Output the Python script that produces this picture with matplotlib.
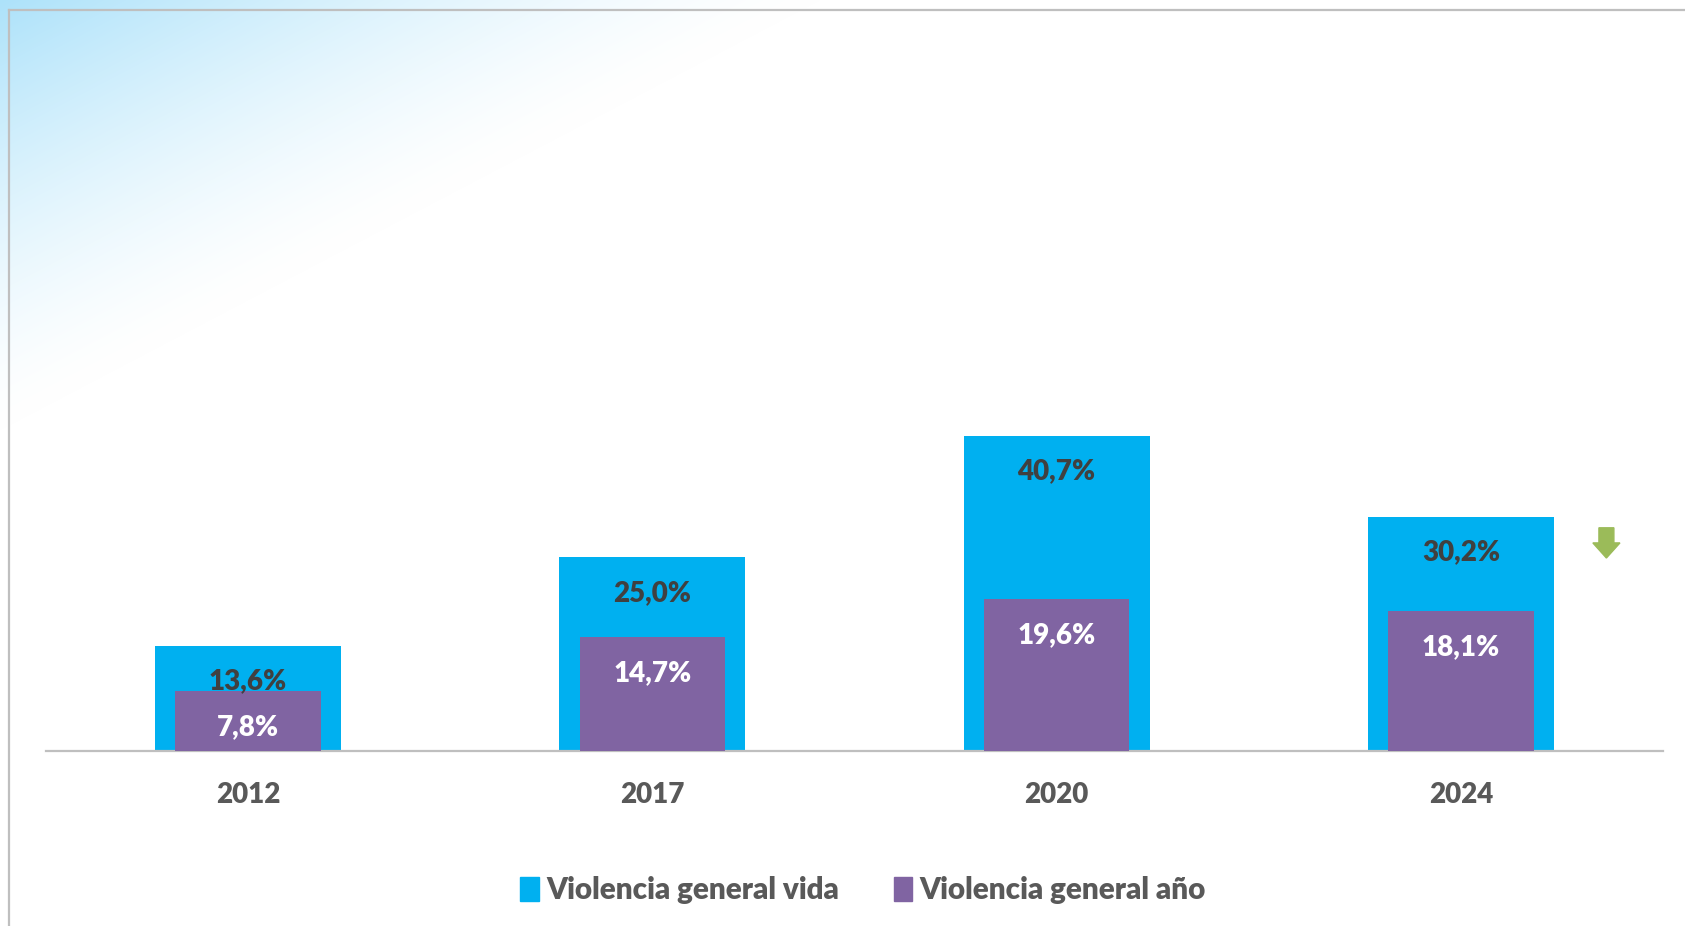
import numpy as np
import matplotlib
matplotlib.use("Agg")
import matplotlib.pyplot as plt
from matplotlib.patches import Patch, FancyArrow
from matplotlib.lines import Line2D

plt.rcParams['font.family'] = ['Lato', 'DejaVu Sans']

years = ["2012", "2017", "2020", "2024"]
vida = [13.6, 25.0, 40.7, 30.2]
anio = [7.8, 14.7, 19.6, 18.1]
series_names = ["Violencia general vida", "Violencia general año"]

blue = "#00B0F0"
purple = "#8064A2"
green = "#9BBB59"
txt_dark = "#404040"
txt_gray = "#595959"
frame_gray = "#BFBFBF"
wt = "heavy"

W, H = 1685, 926
fig = plt.figure(figsize=(W / 100, H / 100), dpi=100)

# background gradient (light blue from top-left corner)
bg = fig.add_axes([0, 0, 1, 1], zorder=0)
yy, xx = np.mgrid[0:H, 0:W]
t = np.clip(xx / 820 + yy / 430, 0, 1)
a = (1 - t) ** 1.4
img = np.ones((H, W, 3))
c = np.array([0xAD, 0xE2, 0xFA]) / 255
for k in range(3):
    img[..., k] = 1 - a * (1 - c[k])
bg.imshow(img, extent=[0, W, H, 0], aspect="auto")
bg.set_xlim(0, W)
bg.set_ylim(H, 0)
bg.axis("off")
# frame lines (top and left)
bg.add_line(Line2D([9, W], [10, 10], color=frame_gray, lw=1.6))
bg.add_line(Line2D([9, 9], [10, H], color=frame_gray, lw=1.6))

# main axes
ax_left, ax_right = 46, 1663
base_y = 751
ymax = 50
px_per = 7.75
ax_h = ymax * px_per
ax = fig.add_axes([ax_left / W, 1 - base_y / H, (ax_right - ax_left) / W, ax_h / H], zorder=1)
ax.patch.set_alpha(0)

x = np.arange(len(years))
ax.bar(x, vida, width=0.46, color=blue, zorder=2)
ax.bar(x, anio, width=0.36, color=purple, zorder=3)

for xi, v in zip(x, vida):
    ax.annotate(f"{v:.1f}%".replace(".", ","), (xi, v), xytext=(0, -25.5),
                textcoords="offset points", ha="center", va="center",
                fontsize=20, fontweight=wt, color=txt_dark, zorder=4)
for xi, v in zip(x, anio):
    ax.annotate(f"{v:.1f}%".replace(".", ","), (xi, v), xytext=(0, -26),
                textcoords="offset points", ha="center", va="center",
                fontsize=20, fontweight=wt, color="white", zorder=4)

# green down arrow next to the last bar
ax.add_patch(FancyArrow(3.36, 28.8, 0, -3.9, width=0.037, head_width=0.067,
                        head_length=1.95, length_includes_head=True,
                        color=green, zorder=4))

ax.set_xlim(-0.5, 3.5)
ax.set_ylim(0, ymax)
ax.set_xticks(x)
ax.set_xticklabels(years, fontsize=20, fontweight=wt, color=txt_gray)
ax.tick_params(axis="x", length=0, pad=22)
ax.set_yticks([])
for s in ["top", "right", "left"]:
    ax.spines[s].set_visible(False)
ax.spines["bottom"].set_color(frame_gray)
ax.spines["bottom"].set_linewidth(1.6)

handles = [Patch(color=blue), Patch(color=purple)]
leg = fig.legend(handles, series_names, loc="center", ncol=2,
                 bbox_to_anchor=(863 / W, 1 - 890 / H), frameon=False,
                 prop={"size": 21.3, "weight": wt}, handlelength=0.62,
                 handleheight=0.9, handletextpad=0.25, columnspacing=1.85)
for t_ in leg.get_texts():
    t_.set_color(txt_gray)

fig.savefig("out.png", dpi=100)
